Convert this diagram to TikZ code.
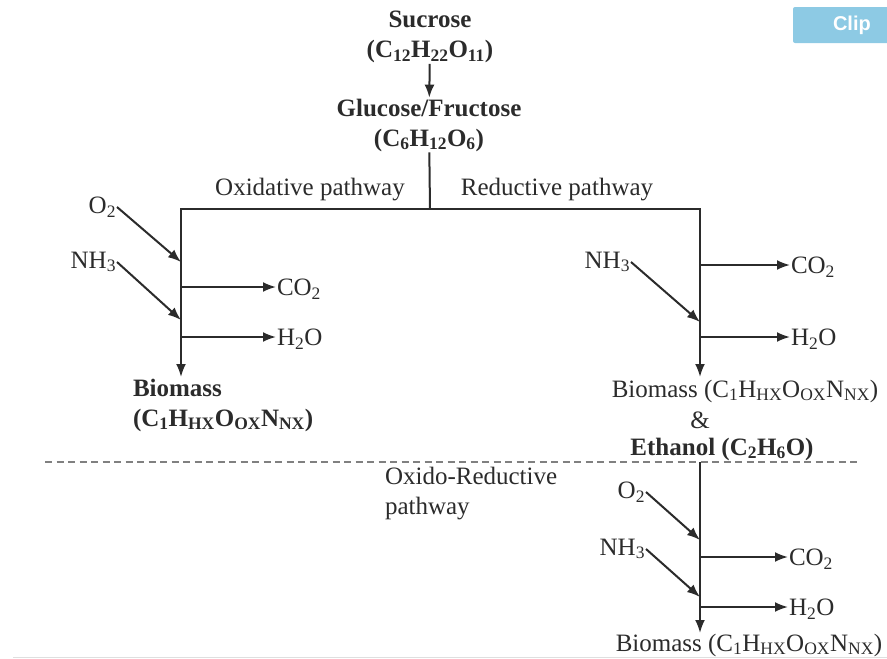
\documentclass[tikz,border=0pt]{standalone}
\usepackage{fontspec}
\setmainfont{Liberation Serif}
\setsansfont{Liberation Sans}
\usetikzlibrary{positioning, arrows.meta}
\definecolor{clipblue}{HTML}{8DCAE4}
\definecolor{inkgray}{HTML}{2B2B2B}

\begin{document}
\begin{tikzpicture}[x=1pt, y=-1pt,
        % estilos
        every node/.style={inner sep=0pt, outer sep=1pt, text=inkgray,
            font=\fontsize{25}{30}\selectfont},
        flow/.style={draw=inkgray, line width=2pt},
        arrow/.style={flow, -{Latex[length=13pt, width=10pt]}},
        title/.style={align=center, font=\fontsize{25}{30}\selectfont\bfseries}
    ]
        \useasboundingbox (0,0) rectangle (887,659);
        \clip (0,0) rectangle (887,659);

        % Clip button (screenshot)
        \path[fill=clipblue, rounded corners=2pt] (793,7) rectangle (900,43);
        \node[anchor=west, text=white,
            font=\sffamily\bfseries\fontsize{20}{24}\selectfont] (clipbtn)
            at (832,25) {Clip};

        % Nodes
        \node[title] (sucrose) at (430,37) {Sucrose\\(C\textsubscript{12}H\textsubscript{22}O\textsubscript{11})};
        \node[title] (glucose) at (429,125) {Glucose/Fructose\\(C\textsubscript{6}H\textsubscript{12}O\textsubscript{6})};
        \node (oxlabel) at (310,190) {Oxidative pathway};
        \node (redlabel) at (557,190) {Reductive pathway};

        % Oxidative pathway
        \coordinate (split) at (430,209);
        \coordinate (oxIn1) at (181,262);
        \coordinate (oxOut1) at (181,287);
        \coordinate (oxIn2) at (181,320);
        \coordinate (oxOut2) at (181,337);
        \coordinate (oxEnd) at (181,377);
        \node[anchor=east] (o2L) at (117,207) {O\textsubscript{2}};
        \node[anchor=east] (nh3L) at (117,262) {NH\textsubscript{3}};
        \node[anchor=west] (co2L) at (276,289) {CO\textsubscript{2}};
        \node[anchor=west] (h2oL) at (276,339) {H\textsubscript{2}O};
        \node[title, align=left, anchor=west] (bioL) at (132,405)
            {Biomass\\(C\textsubscript{1}H\textsubscript{HX}O\textsubscript{OX}N\textsubscript{NX})};

        % Reductive pathway
        \coordinate (redIn1) at (700,322);
        \coordinate (redOut1) at (700,265);
        \coordinate (redOut2) at (700,337);
        \coordinate (redEnd) at (700,377);
        \node[anchor=east] (nh3R) at (631,262) {NH\textsubscript{3}};
        \node[anchor=west] (co2R) at (790,267) {CO\textsubscript{2}};
        \node[anchor=west] (h2oR) at (790,339) {H\textsubscript{2}O};
        \node (bioR) at (745,391) {Biomass (C\textsubscript{1}H\textsubscript{HX}O\textsubscript{OX}N\textsubscript{NX})};
        \node (amp) at (700,420) {\&};
        \node[title] (ethanol) at (722,449) {Ethanol (C\textsubscript{2}H\textsubscript{6}O)};

        % Oxido-reductive pathway
        \coordinate (dashL) at (45,462);
        \coordinate (dashR) at (860,462);
        \coordinate (oxredTop) at (700,462);
        \coordinate (oxredIn1) at (700,540);
        \coordinate (oxredOut1) at (700,557);
        \coordinate (oxredIn2) at (700,597);
        \coordinate (oxredOut2) at (700,607);
        \coordinate (oxredEnd) at (700,633);
        \node[align=left, anchor=north west] (oxredlabel) at (384,466) {Oxido-Reductive\\pathway};
        \node[anchor=east] (o2B) at (646,492) {O\textsubscript{2}};
        \node[anchor=east] (nh3B) at (646,549) {NH\textsubscript{3}};
        \node[anchor=west] (co2B) at (788,559) {CO\textsubscript{2}};
        \node[anchor=west] (h2oB) at (788,609) {H\textsubscript{2}O};
        \node (bioB) at (749,645) {Biomass (C\textsubscript{1}H\textsubscript{HX}O\textsubscript{OX}N\textsubscript{NX})};

        % Lines
        \draw[arrow] (sucrose) -- (glucose);
        \draw[flow] (glucose) -- (split);
        \draw[arrow] (split) -| (oxEnd);
        \draw[arrow] (split) -| (redEnd);
        \draw[arrow] (o2L.east) -- (oxIn1);
        \draw[arrow] (nh3L.east) -- (oxIn2);
        \draw[arrow] (oxOut1) -- (oxOut1 -| co2L.west);
        \draw[arrow] (oxOut2) -- (oxOut2 -| h2oL.west);

        \draw[arrow] (nh3R.east) -- (redIn1);
        \draw[arrow] (redOut1) -- (redOut1 -| co2R.west);
        \draw[arrow] (redOut2) -- (redOut2 -| h2oR.west);

        \draw[flow, line width=2pt, dash pattern=on 7pt off 4.5pt, draw=gray] (dashL) -- (dashR);
        \draw[arrow] (oxredTop) -- (oxredEnd);
        \draw[arrow] (o2B.east) -- (oxredIn1);
        \draw[arrow] (nh3B.east) -- (oxredIn2);
        \draw[arrow] (oxredOut1) -- (oxredOut1 -| co2B.west);
        \draw[arrow] (oxredOut2) -- (oxredOut2 -| h2oB.west);

        \draw[draw=gray!25, line width=1pt] (13,657) -- (887,657);
    \end{tikzpicture}
\end{document}
